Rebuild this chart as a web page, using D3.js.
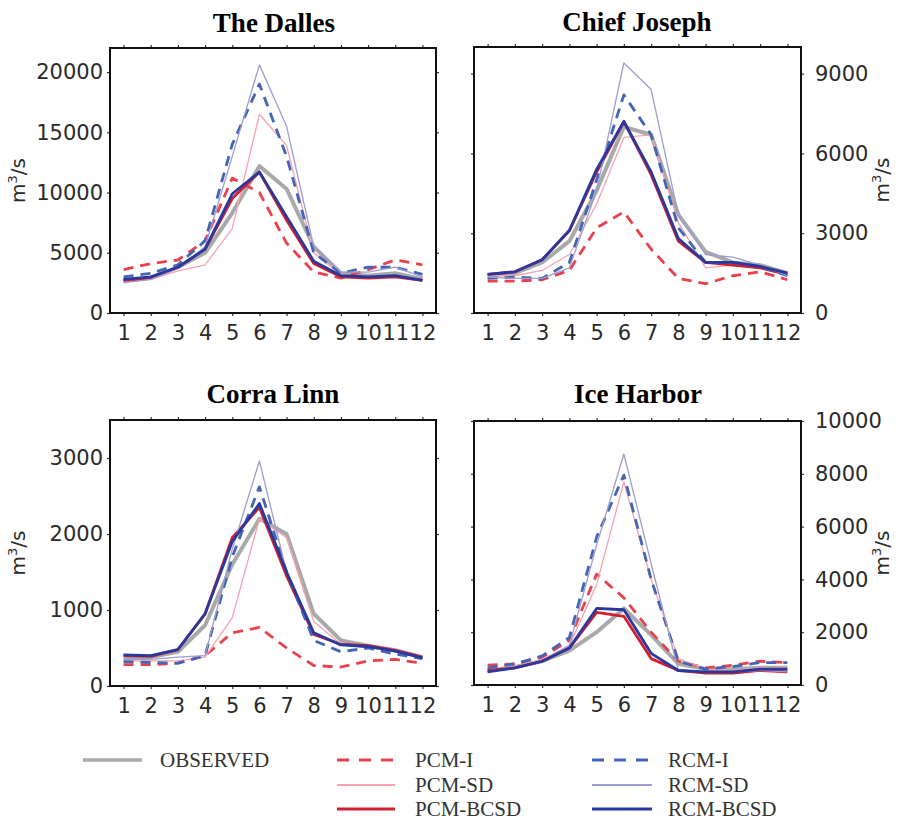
<!DOCTYPE html>
<html>
<head>
<meta charset="utf-8">
<script src="https://cdn.jsdelivr.net/npm/d3@7"></script>
<style>
  body { margin: 0; background: #fff; }
  svg { display: block; }
  .tick text { font-family: "DejaVu Sans", sans-serif; font-size: 21px; fill: #2a2a2a; }
  .title { font-family: "Liberation Serif", "Times New Roman", serif; font-weight: bold; font-size: 27px; }
  .legend text { font-family: "Liberation Serif", "Times New Roman", serif; font-size: 21px; fill: #333; }
</style>
</head>
<body>
<script>
// months on the x axis
const months = [1, 2, 3, 4, 5, 6, 7, 8, 9, 10, 11, 12];

const seriesNames = ["OBSERVED", "PCM-I", "PCM-SD", "PCM-BCSD", "RCM-I", "RCM-SD", "RCM-BCSD"];

// rows follow seriesNames
const dallesValues = [
  [2700, 2900, 3800, 5000, 8300, 12200, 10300, 5500, 3300, 3100, 3300, 2800],
  [3600, 4100, 4400, 6000, 11200, 10000, 5800, 3400, 2900, 3600, 4400, 4000],
  [2600, 2800, 3500, 4000, 7000, 16500, 13900, 5000, 3200, 2900, 3000, 2800],
  [2700, 2900, 3800, 5300, 9500, 11700, 7700, 4100, 3000, 2900, 3000, 2700],
  [3000, 3300, 4000, 6000, 14000, 19000, 13000, 5000, 3300, 3800, 3800, 3200],
  [2500, 2800, 3700, 5500, 13000, 20600, 15500, 5500, 3400, 3400, 3800, 3000],
  [2800, 3000, 3800, 5300, 9900, 11700, 8000, 4300, 3100, 3000, 3100, 2700]
];

const chiefJosephValues = [
  [1400, 1500, 1900, 2700, 4600, 7000, 6700, 3700, 2300, 1900, 1800, 1500],
  [1200, 1200, 1250, 1600, 3200, 3800, 2400, 1300, 1100, 1400, 1550, 1250],
  [1400, 1400, 1600, 2200, 4100, 6600, 6700, 3400, 1700, 1800, 1700, 1400],
  [1450, 1550, 2000, 3100, 5300, 7200, 5200, 2700, 1900, 1800, 1700, 1450],
  [1300, 1350, 1300, 1900, 5000, 8200, 6700, 3200, 1900, 1900, 1750, 1400],
  [1350, 1300, 1300, 1700, 4600, 9400, 8400, 3700, 2200, 2100, 1800, 1400],
  [1450, 1550, 2000, 3100, 5400, 7200, 5300, 2800, 1900, 1900, 1750, 1500]
];

const corraLinnValues = [
  [380, 380, 450, 800, 1600, 2200, 2000, 950, 600, 530, 470, 380],
  [280, 280, 300, 400, 700, 770, 500, 270, 250, 330, 350, 300],
  [330, 330, 330, 380, 900, 2200, 1950, 850, 550, 500, 460, 380],
  [400, 390, 480, 950, 1950, 2350, 1450, 680, 550, 530, 470, 380],
  [320, 310, 300, 400, 1700, 2620, 1500, 600, 450, 500, 420, 360],
  [350, 350, 380, 400, 1800, 2960, 1500, 700, 550, 520, 450, 380],
  [410, 400, 480, 950, 1900, 2400, 1500, 700, 540, 520, 460, 370]
];

const iceHarborValues = [
  [550, 680, 900, 1300, 2000, 2900, 1900, 800, 600, 600, 650, 650],
  [750, 800, 1050, 1700, 4200, 3300, 2000, 900, 650, 750, 900, 850],
  [600, 700, 950, 1500, 3800, 7700, 4000, 1000, 600, 550, 650, 650],
  [550, 650, 900, 1400, 2750, 2600, 1000, 550, 450, 450, 550, 500],
  [650, 800, 1100, 1800, 5600, 7950, 4000, 900, 600, 700, 850, 850],
  [500, 650, 900, 1500, 5300, 8750, 4600, 550, 500, 500, 550, 500],
  [500, 650, 900, 1400, 2900, 2850, 1200, 550, 500, 500, 600, 600]
];

const dallesTicks = [0, 5000, 10000, 15000, 20000];
const chiefJosephTicks = [0, 3000, 6000, 9000];
const corraLinnTicks = [0, 1000, 2000, 3000];
const iceHarborTicks = [0, 2000, 4000, 6000, 8000, 10000];

// line look for each series
const styles = [
  { color: "#a9a9a9", width: 4, dash: null },
  { color: "#e8404c", width: 2.8, dash: "10,7" },
  { color: "#f5a3ae", width: 1.3, dash: null },
  { color: "#d11f2f", width: 2.8, dash: null },
  { color: "#4464b4", width: 2.8, dash: "10,7" },
  { color: "#9d9dd0", width: 1.3, dash: null },
  { color: "#2a389e", width: 2.8, dash: null }
];

const panels = [
  { title: "The Dalles", values: dallesValues, ticks: dallesTicks, max: 22000, x0: 110, x1: 436, y0: 48, y1: 313, side: "left", tx: 274, ty: 32 },
  { title: "Chief Joseph", values: chiefJosephValues, ticks: chiefJosephTicks, max: 10000, x0: 474, x1: 801, y0: 47, y1: 313, side: "right", tx: 637, ty: 31 },
  { title: "Corra Linn", values: corraLinnValues, ticks: corraLinnTicks, max: 3500, x0: 110, x1: 436, y0: 420, y1: 686, side: "left", tx: 273, ty: 403 },
  { title: "Ice Harbor", values: iceHarborValues, ticks: iceHarborTicks, max: 10000, x0: 474, x1: 801, y0: 421, y1: 685, side: "right", tx: 638, ty: 403 }
];

const svg = d3.select("body").append("svg")
  .attr("width", 900)
  .attr("height", 821);

panels.forEach(p => {
  const x = d3.scaleLinear().domain([0.5, 12.5]).range([p.x0, p.x1]);
  const y = d3.scaleLinear().domain([0, p.max]).range([p.y1, p.y0]);
  const g = svg.append("g");

  g.append("text").attr("class", "title")
    .attr("x", p.tx).attr("y", p.ty)
    .attr("text-anchor", "middle")
    .text(p.title);

  // lines
  const line = d3.line().x((d, i) => x(months[i])).y(d => y(d));
  p.values.forEach((vals, k) => {
    const s = styles[k];
    g.append("path")
      .datum(vals)
      .attr("fill", "none")
      .attr("stroke", s.color)
      .attr("stroke-width", s.width)
      .attr("stroke-dasharray", s.dash)
      .attr("stroke-linejoin", "round")
      .attr("d", line);
  });

  // axes, ticks pointing out on all four sides
  const bottom = g.append("g").attr("transform", `translate(0,${p.y1})`)
    .call(d3.axisBottom(x).tickValues(months).tickSize(3).tickSizeOuter(0).tickPadding(9));
  bottom.selectAll(".tick text").attr("dy", "0.71em");
  g.append("g").attr("transform", `translate(0,${p.y0})`)
    .call(d3.axisTop(x).tickValues(months).tickSize(3).tickSizeOuter(0).tickFormat(""));

  const fmt = d3.format("d");
  const leftAxis = d3.axisLeft(y).tickValues(p.ticks).tickSize(3).tickSizeOuter(0).tickPadding(4).tickFormat(fmt);
  const rightAxis = d3.axisRight(y).tickValues(p.ticks).tickSize(3).tickSizeOuter(0).tickPadding(11).tickFormat(fmt);
  if (p.side === "left") {
    g.append("g").attr("transform", `translate(${p.x0},0)`).call(leftAxis);
    g.append("g").attr("transform", `translate(${p.x1},0)`).call(rightAxis.tickFormat(""));
  } else {
    g.append("g").attr("transform", `translate(${p.x0},0)`).call(leftAxis.tickFormat(""));
    g.append("g").attr("transform", `translate(${p.x1},0)`).call(rightAxis);
  }
  g.selectAll(".domain").remove();
  g.selectAll(".tick line").attr("stroke", "#333").attr("stroke-width", 1.2);

  g.append("rect")
    .attr("x", p.x0).attr("y", p.y0)
    .attr("width", p.x1 - p.x0).attr("height", p.y1 - p.y0)
    .attr("fill", "none").attr("stroke", "#111").attr("stroke-width", 2);

  // m3/s label
  const lx = p.side === "left" ? 25 : 889;
  const ly = (p.y0 + p.y1) / 2;
  const lab = g.append("text")
    .attr("transform", `translate(${lx},${ly}) rotate(-90)`)
    .attr("text-anchor", "middle")
    .style("font-family", "DejaVu Sans, sans-serif")
    .style("font-size", "20px")
    .attr("fill", "#2a2a2a");
  lab.append("tspan").text("m");
  lab.append("tspan").attr("dy", -8).style("font-size", "13px").text("3");
  lab.append("tspan").attr("dy", 8).text("/s");
});

// legend
const legendCols = [
  { x0: 83, x1: 142, tx: 160 },
  { x0: 337, x1: 395, tx: 415 },
  { x0: 592, x1: 652, tx: 668 }
];
const legendRows = [760, 785, 809];
const legendSlots = [[0, 0], [1, 0], [1, 1], [1, 2], [2, 0], [2, 1], [2, 2]];

const legend = svg.append("g").attr("class", "legend");
seriesNames.forEach((name, k) => {
  const c = legendCols[legendSlots[k][0]];
  const ry = legendRows[legendSlots[k][1]];
  const s = styles[k];
  legend.append("line")
    .attr("x1", c.x0).attr("x2", c.x1)
    .attr("y1", ry).attr("y2", ry)
    .attr("stroke", s.color)
    .attr("stroke-width", k === 0 ? 3.5 : (s.width < 2 ? 2 : 3))
    .attr("stroke-dasharray", s.dash ? "12,10" : null);
  legend.append("text")
    .attr("x", c.tx).attr("y", ry + 7)
    .text(name);
});
</script>
</body>
</html>
